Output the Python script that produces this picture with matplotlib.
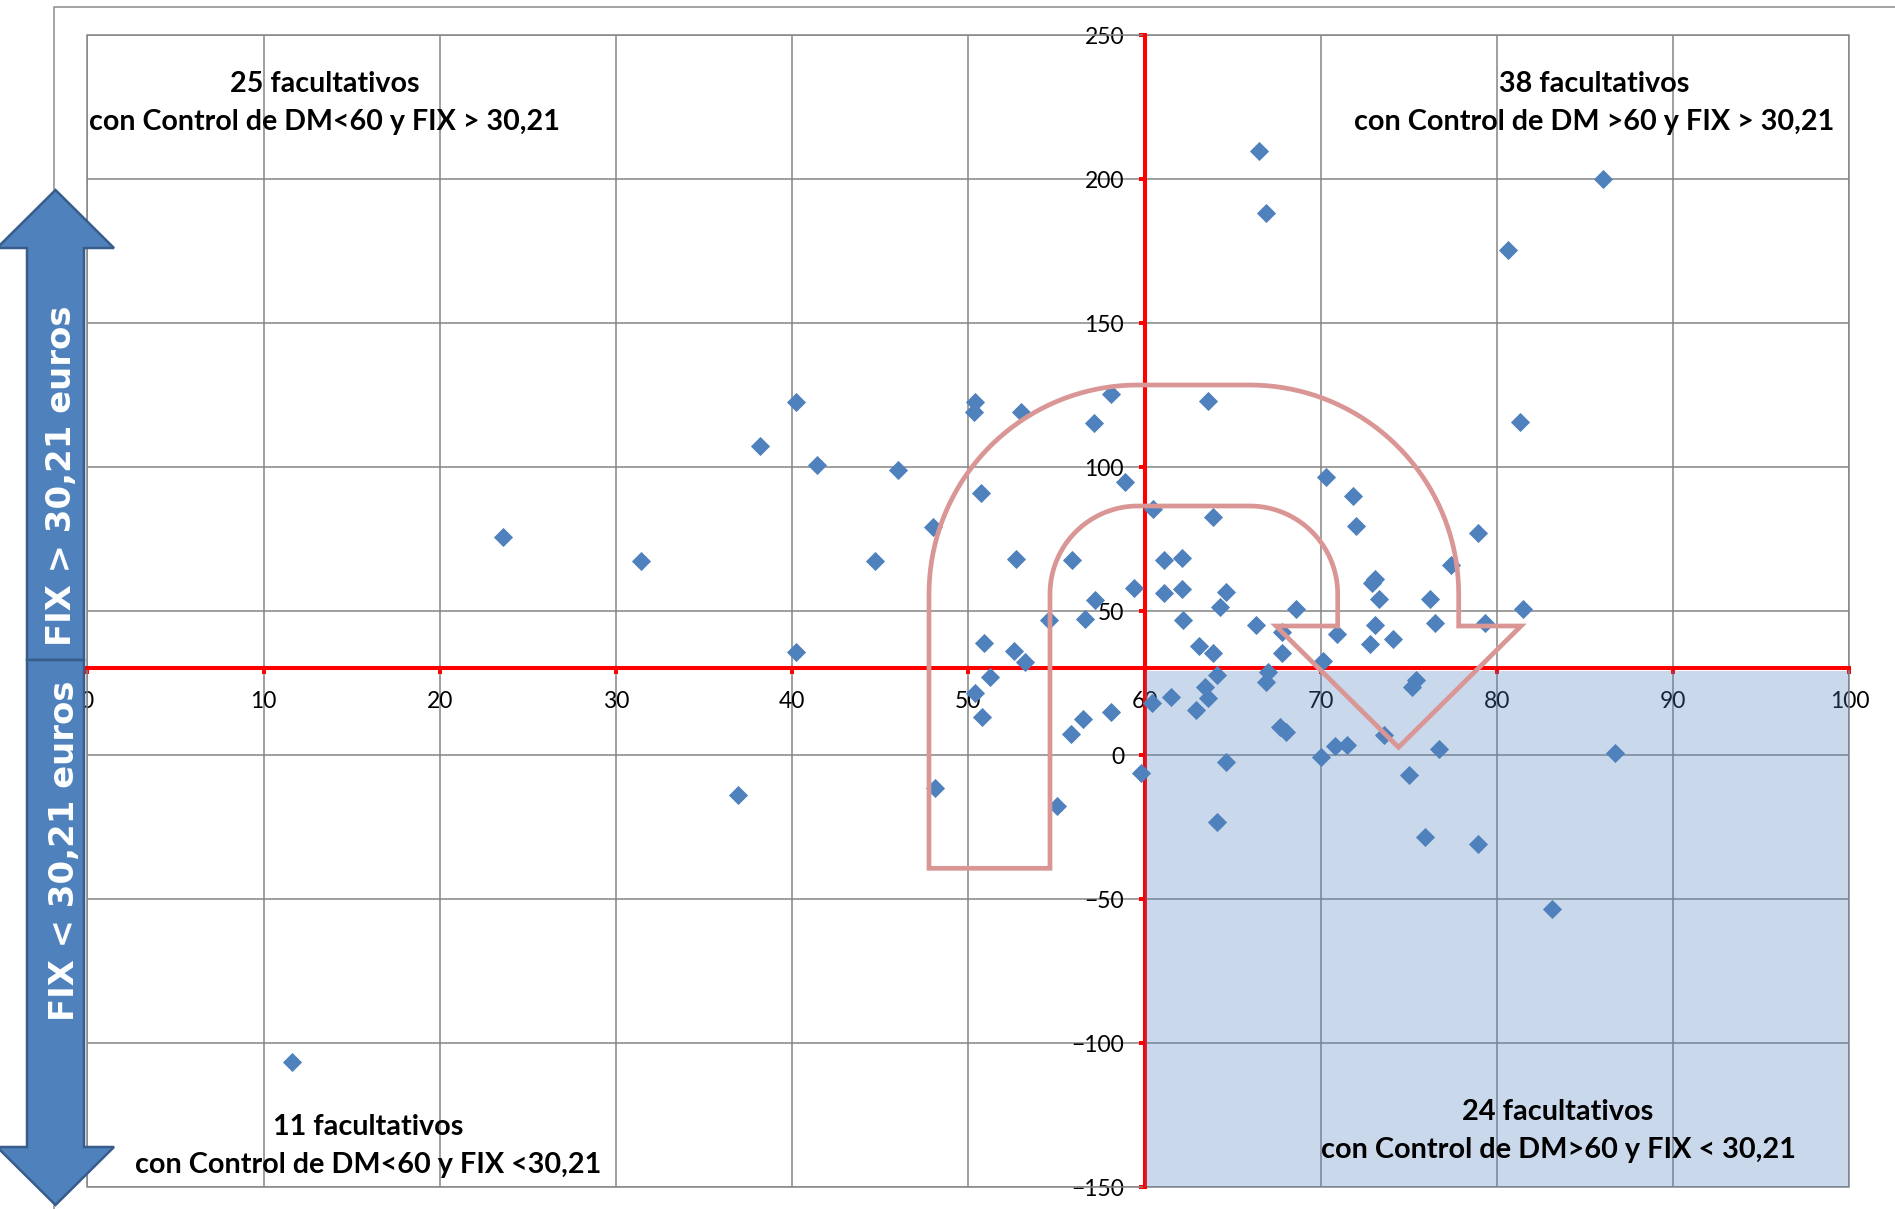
import matplotlib
matplotlib.use("Agg")
import matplotlib.pyplot as plt
from matplotlib.patches import Polygon, Rectangle
from matplotlib.lines import Line2D
import numpy as np

# ---------------- data ----------------
# % control de DM (x) and FIX expenditure (y) for each facultativo
dm_control = [
    # DM<60, FIX>30.21
    40.2, 38.2, 41.4, 46.0, 48.0, 23.6, 31.4, 44.7, 40.2, 50.4, 50.3, 53.0, 58.1,
    57.1, 58.9, 50.7, 52.7, 55.9, 59.4, 57.2, 54.6, 56.6, 50.9, 52.6, 53.2,
    # DM<60, FIX<30.21
    50.4, 51.2, 50.8, 55.8, 56.5, 58.1, 55.0, 59.8, 36.9, 48.1, 11.6,
    # DM>60, FIX>30.21
    63.6, 70.3, 71.8, 72.0, 60.5, 63.9, 61.1, 62.1, 77.4, 78.9, 73.1, 72.9, 61.1,
    62.1, 64.6, 64.3, 73.3, 76.2, 68.6, 62.2, 66.3, 73.1, 76.5, 79.3, 67.8, 70.9,
    63.1, 63.9, 67.8, 72.8, 74.1, 70.1, 66.5, 66.9, 86.0, 80.6, 81.3, 81.5,
    # DM>60, FIX<30.21
    60.4, 61.5, 62.9, 63.4, 63.6, 64.1, 64.6, 64.1, 66.9, 67.0, 67.7, 68.0, 70.0,
    70.8, 71.5, 73.6, 75.0, 75.9, 75.2, 75.4, 76.7, 78.9, 86.7, 83.1,
]
fix_euros = [
    122.5, 107.2, 100.8, 98.8, 79.3, 75.6, 67.4, 67.2, 35.6, 122.7, 119.2, 119.2, 125.3,
    115.2, 94.9, 90.9, 68.1, 67.7, 58.1, 53.8, 46.9, 47.3, 38.8, 36.2, 32.2,
    21.4, 27.2, 13.1, 7.2, 12.4, 14.9, -17.6, -6.4, -13.9, -11.4, -106.7,
    122.9, 96.6, 89.9, 79.5, 85.3, 82.5, 67.7, 68.5, 66.0, 77.0, 61.0, 59.8, 56.1,
    57.7, 56.5, 51.5, 54.0, 54.0, 50.6, 46.8, 45.3, 45.3, 45.7, 45.7, 42.8, 41.9,
    37.8, 35.5, 35.5, 38.5, 40.2, 32.6, 209.6, 188.1, 199.9, 175.2, 115.7, 50.8,
    18.2, 20.2, 15.6, 23.7, 19.7, 27.8, -2.3, -23.3, 25.2, 28.9, 9.6, 8.1, -0.6,
    3.1, 3.5, 6.9, -7.1, -28.4, 23.5, 26.0, 2.0, -30.8, 0.6, -53.4,
]
x_ticks = [0, 10, 20, 30, 40, 50, 60, 70, 80, 90, 100]
y_ticks = [-150, -100, -50, 0, 50, 100, 150, 200, 250]
DM_THRESHOLD = 60
FIX_THRESHOLD = 30.21
quadrant_titles = ["25 facultativos", "38 facultativos", "11 facultativos", "24 facultativos"]
quadrant_subtitles = [
    "con Control de DM<60 y FIX > 30,21",
    "con Control de DM >60 y FIX > 30,21",
    "con Control de DM<60 y FIX <30,21",
    "con Control de DM>60 y FIX < 30,21",
]
arrow_labels = ["FIX > 30,21 euros", "FIX < 30,21 euros"]

# ---------------- figure ----------------
plt.rcParams["font.family"] = ["Lato", "DejaVu Sans"]
W, H = 1895, 1209
fig = plt.figure(figsize=(W / 100, H / 100), dpi=100)
fig.patch.set_facecolor("white")


def F(x, y):
    """full-size pixel coordinates (y down) -> figure fraction"""
    return (x / W, 1 - y / H)


ax = fig.add_axes([87.4 / W, 1 - 1187 / H, (1849.4 - 87.4) / W, (1187 - 35) / H])
ax.set_xlim(0, 100)
ax.set_ylim(-150, 250)
ax.set_xticks(x_ticks)
ax.set_yticks(y_ticks)
ax.grid(True, color="#858585", lw=1.1)
ax.set_axisbelow(True)
for s in ["top", "right"]:
    ax.spines[s].set_visible(False)
ax.spines["left"].set_position(("data", DM_THRESHOLD))
ax.spines["bottom"].set_position(("data", FIX_THRESHOLD))
for s in ["left", "bottom"]:
    ax.spines[s].set_color("#FF0000")
    ax.spines[s].set_linewidth(2.9)
    ax.spines[s].set_zorder(2.5)
ax.tick_params(axis="both", colors="#FF0000", labelcolor="black", length=4.3,
               width=2.9, direction="out", labelsize=16.5)
ax.tick_params(axis="x", pad=12)
ax.tick_params(axis="y", pad=10.5)

# plot-area border
ax.add_patch(Rectangle((0, 0), 1, 1, transform=ax.transAxes, fill=False,
                       ec="#858585", lw=1.1, clip_on=False, zorder=1))

# shaded quadrant (DM>60, FIX<30.21)
ax.add_patch(Rectangle((DM_THRESHOLD, -150), 100 - DM_THRESHOLD, FIX_THRESHOLD - 0.9 + 150,
                       fc="#4F81BD", alpha=0.3, ec="none", zorder=3))

ax.plot(dm_control, fix_euros, ls="none", marker="D", ms=9.3, color="#4F81BD",
        mec="#4F81BD", mew=0.6, zorder=4, clip_on=False)

# chart-area frame
fig.add_artist(Line2D([54 / W, 54 / W, 1.0], [0.0, 1 - 7 / H, 1 - 7 / H],
                      color="#8C8C8C", lw=1.1, zorder=1))


# ---------------- U-turn arrow (pink outline) ----------------
def arc(cx, cy, r, a0, a1, n=40):
    a = np.radians(np.linspace(a0, a1, n))
    return list(zip(cx + r * np.cos(a), cy - r * np.sin(a)))


cl, cr, cyy = 1138.0, 1249.7, 594.0
r_in, r_out = 88.0, 209.0
pts = [(cl - r_out, 868.3)]
pts += arc(cl, cyy, r_out, 180, 90)
pts += arc(cr, cyy, r_out, 90, 0)
pts += [(cr + r_out, 626), (1521, 626), (1398.5, 747.3), (1276, 626), (cr + r_in, 626)]
pts += arc(cr, cyy, r_in, 0, 90)
pts += arc(cl, cyy, r_in, 90, 180)
pts += [(cl - r_in, 868.3)]
uturn = Polygon([F(x, y) for x, y in pts], closed=True, fill=False, ec="#D99694",
                lw=3.4, joinstyle="miter", transform=fig.transFigure, zorder=5)
fig.add_artist(uturn)

# ---------------- blue double arrow ----------------
up = [(27, 660), (27, 248), (-3, 248), (55.5, 190), (114, 248), (84, 248), (84, 660)]
down = [(27, 660), (27, 1147), (-3, 1147), (55.5, 1205), (114, 1147), (84, 1147), (84, 660)]
for shape in (up, down):
    fig.add_artist(Polygon([F(x, y) for x, y in shape], closed=True, fc="#4F81BD",
                           ec="#385D8A", lw=1.8, transform=fig.transFigure, zorder=6))

renderer = fig.canvas.get_renderer()


def fit_size(s, target_px, family, base=20):
    t = fig.text(0, 0, s, fontsize=base, family=family, weight="bold")
    w = t.get_window_extent(renderer).width
    t.remove()
    return base * target_px / w


arrow_size = fit_size(arrow_labels[0], 340, ["DejaVu Sans"])
fig.text(*F(71, 476), arrow_labels[0], rotation=90, rotation_mode="anchor",
         ha="center", va="baseline", color="white", weight="bold",
         family=["DejaVu Sans"], fontsize=arrow_size, zorder=7)
fig.text(*F(74, 851), arrow_labels[1], rotation=90, rotation_mode="anchor",
         ha="center", va="baseline", color="white", weight="bold",
         family=["DejaVu Sans"], fontsize=arrow_size, zorder=7)

# ---------------- quadrant annotations ----------------
# (center x, baseline line 1, baseline line 2, target width of line 2) in pixels
quad_pos = [
    (324.8, 91.7, 130.0, 471),
    (1594.3, 91.7, 130.0, 480),
    (367.8, 1135.0, 1173.3, 466),
    (1558.0, 1120.0, 1158.3, 474),
]
for title, sub, (cx, b1, b2, wpx) in zip(quadrant_titles, quadrant_subtitles, quad_pos):
    size = fit_size(sub, wpx, ["Lato", "DejaVu Sans"])
    fig.text(*F(cx, b1), title, ha="center", va="baseline", weight="bold",
             fontsize=size, color="black", zorder=8)
    fig.text(*F(cx, b2), sub, ha="center", va="baseline", weight="bold",
             fontsize=size, color="black", zorder=8)

fig.savefig("out.png", dpi=100)
